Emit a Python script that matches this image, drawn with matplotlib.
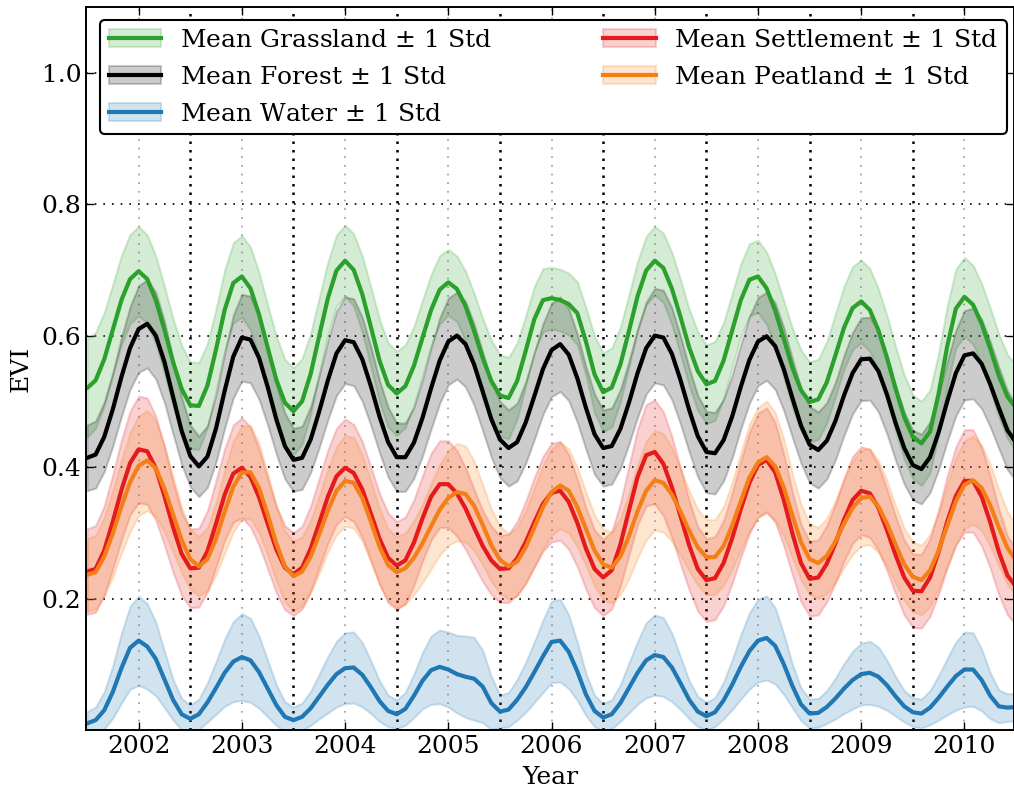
import numpy as np
import matplotlib
matplotlib.use('Agg')
import matplotlib.pyplot as plt
from matplotlib.patches import Patch
from matplotlib.lines import Line2D

plt.rcParams['font.family'] = 'DejaVu Serif'
plt.rcParams['font.size'] = 18

# monthly samples, July 2001 .. July 2010
t = 2001.5 + np.arange(109) / 12.0

grass_mean = [
    0.520, 0.532, 0.564, 0.609, 0.654, 0.686, 0.698, 0.686, 0.654, 0.609, 0.560, 0.519,
    0.494, 0.493, 0.524, 0.579, 0.639, 0.680, 0.690, 0.672, 0.632, 0.582, 0.533, 0.498,
    0.485, 0.500, 0.542, 0.600, 0.657, 0.699, 0.714, 0.700, 0.663, 0.613, 0.562, 0.525,
    0.512, 0.523, 0.554, 0.597, 0.639, 0.670, 0.681, 0.671, 0.645, 0.607, 0.566, 0.531,
    0.509, 0.505, 0.531, 0.577, 0.625, 0.654, 0.657, 0.654, 0.648, 0.634, 0.591, 0.541,
    0.514, 0.521, 0.556, 0.607, 0.660, 0.699, 0.714, 0.703, 0.671, 0.628, 0.582, 0.546,
    0.526, 0.531, 0.562, 0.608, 0.654, 0.685, 0.690, 0.672, 0.638, 0.595, 0.551, 0.517,
    0.499, 0.503, 0.529, 0.570, 0.612, 0.642, 0.652, 0.639, 0.608, 0.566, 0.519, 0.476,
    0.446, 0.436, 0.454, 0.512, 0.584, 0.641, 0.659, 0.647, 0.618, 0.580, 0.539, 0.507,
    0.490]
grass_std = [
    0.075, 0.073, 0.071, 0.069, 0.068, 0.068, 0.068, 0.067, 0.067, 0.066, 0.066, 0.066,
    0.066, 0.066, 0.064, 0.062, 0.061, 0.061, 0.062, 0.063, 0.064, 0.065, 0.066, 0.066,
    0.066, 0.065, 0.062, 0.058, 0.055, 0.054, 0.054, 0.055, 0.058, 0.061, 0.063, 0.064,
    0.064, 0.063, 0.060, 0.057, 0.054, 0.052, 0.050, 0.050, 0.053, 0.057, 0.060, 0.062,
    0.062, 0.062, 0.058, 0.053, 0.050, 0.048, 0.047, 0.047, 0.047, 0.048, 0.052, 0.058,
    0.060, 0.060, 0.057, 0.055, 0.053, 0.052, 0.052, 0.053, 0.055, 0.057, 0.058, 0.060,
    0.060, 0.060, 0.058, 0.056, 0.055, 0.055, 0.055, 0.055, 0.056, 0.058, 0.060, 0.061,
    0.061, 0.061, 0.062, 0.063, 0.063, 0.063, 0.063, 0.063, 0.063, 0.064, 0.064, 0.064,
    0.064, 0.064, 0.063, 0.062, 0.061, 0.060, 0.060, 0.060, 0.061, 0.062, 0.063, 0.064,
    0.065]

forest_mean = [
    0.414, 0.419, 0.446, 0.488, 0.537, 0.581, 0.610, 0.618, 0.600, 0.560, 0.507, 0.455,
    0.417, 0.401, 0.416, 0.459, 0.516, 0.568, 0.597, 0.594, 0.566, 0.522, 0.473, 0.432,
    0.411, 0.414, 0.442, 0.485, 0.532, 0.573, 0.593, 0.590, 0.564, 0.523, 0.477, 0.438,
    0.415, 0.415, 0.437, 0.475, 0.520, 0.562, 0.591, 0.600, 0.587, 0.556, 0.515, 0.473,
    0.442, 0.429, 0.438, 0.468, 0.508, 0.549, 0.578, 0.587, 0.571, 0.535, 0.490, 0.450,
    0.429, 0.432, 0.458, 0.498, 0.543, 0.581, 0.600, 0.597, 0.572, 0.532, 0.487, 0.447,
    0.423, 0.421, 0.441, 0.477, 0.522, 0.563, 0.591, 0.599, 0.584, 0.549, 0.505, 0.463,
    0.434, 0.426, 0.440, 0.470, 0.509, 0.543, 0.564, 0.565, 0.546, 0.510, 0.467, 0.429,
    0.403, 0.397, 0.415, 0.453, 0.500, 0.543, 0.570, 0.573, 0.557, 0.526, 0.490, 0.456,
    0.437]
forest_std = [
    0.050, 0.051, 0.053, 0.056, 0.060, 0.063, 0.066, 0.067, 0.066, 0.062, 0.057, 0.051,
    0.047, 0.046, 0.047, 0.051, 0.057, 0.063, 0.066, 0.066, 0.063, 0.058, 0.053, 0.050,
    0.048, 0.048, 0.050, 0.055, 0.060, 0.064, 0.066, 0.066, 0.064, 0.060, 0.055, 0.053,
    0.052, 0.052, 0.054, 0.058, 0.062, 0.065, 0.066, 0.066, 0.065, 0.062, 0.060, 0.058,
    0.058, 0.058, 0.059, 0.062, 0.066, 0.069, 0.071, 0.072, 0.070, 0.067, 0.063, 0.061,
    0.058, 0.058, 0.060, 0.063, 0.067, 0.070, 0.072, 0.072, 0.070, 0.067, 0.064, 0.062,
    0.062, 0.062, 0.062, 0.063, 0.064, 0.066, 0.067, 0.067, 0.066, 0.063, 0.060, 0.057,
    0.058, 0.058, 0.058, 0.059, 0.061, 0.062, 0.063, 0.063, 0.062, 0.060, 0.057, 0.055,
    0.053, 0.053, 0.054, 0.057, 0.061, 0.065, 0.068, 0.069, 0.068, 0.065, 0.062, 0.060,
    0.058]

water_mean = [
    0.010, 0.015, 0.030, 0.058, 0.094, 0.125, 0.136, 0.127, 0.108, 0.077, 0.046, 0.024,
    0.017, 0.024, 0.042, 0.064, 0.087, 0.104, 0.111, 0.106, 0.088, 0.063, 0.038, 0.020,
    0.015, 0.020, 0.033, 0.051, 0.069, 0.085, 0.094, 0.095, 0.084, 0.065, 0.044, 0.029,
    0.024, 0.032, 0.052, 0.075, 0.091, 0.096, 0.092, 0.085, 0.081, 0.078, 0.066, 0.041,
    0.028, 0.031, 0.046, 0.065, 0.088, 0.112, 0.134, 0.136, 0.119, 0.089, 0.054, 0.029,
    0.019, 0.024, 0.041, 0.064, 0.087, 0.106, 0.114, 0.111, 0.095, 0.071, 0.046, 0.028,
    0.021, 0.027, 0.045, 0.069, 0.096, 0.120, 0.136, 0.140, 0.128, 0.100, 0.067, 0.039,
    0.025, 0.026, 0.035, 0.048, 0.063, 0.076, 0.085, 0.087, 0.081, 0.068, 0.051, 0.036,
    0.027, 0.025, 0.034, 0.049, 0.066, 0.082, 0.092, 0.092, 0.076, 0.052, 0.036, 0.034,
    0.035]
water_std = [
    0.018, 0.020, 0.028, 0.040, 0.053, 0.063, 0.068, 0.065, 0.056, 0.043, 0.031, 0.024,
    0.021, 0.023, 0.030, 0.040, 0.051, 0.061, 0.066, 0.064, 0.055, 0.043, 0.031, 0.023,
    0.020, 0.021, 0.026, 0.034, 0.043, 0.050, 0.054, 0.054, 0.049, 0.040, 0.031, 0.024,
    0.022, 0.025, 0.033, 0.043, 0.052, 0.056, 0.057, 0.059, 0.062, 0.063, 0.055, 0.040,
    0.025, 0.026, 0.031, 0.038, 0.046, 0.055, 0.062, 0.063, 0.056, 0.044, 0.032, 0.024,
    0.021, 0.022, 0.028, 0.038, 0.048, 0.057, 0.061, 0.060, 0.052, 0.040, 0.029, 0.023,
    0.021, 0.022, 0.028, 0.038, 0.049, 0.058, 0.063, 0.064, 0.058, 0.046, 0.033, 0.025,
    0.022, 0.022, 0.025, 0.031, 0.038, 0.044, 0.047, 0.048, 0.045, 0.038, 0.030, 0.024,
    0.022, 0.022, 0.026, 0.034, 0.043, 0.052, 0.057, 0.056, 0.047, 0.035, 0.025, 0.021,
    0.021]

settle_mean = [
    0.241, 0.245, 0.273, 0.317, 0.365, 0.406, 0.427, 0.424, 0.398, 0.356, 0.309, 0.268,
    0.246, 0.247, 0.272, 0.314, 0.358, 0.390, 0.399, 0.385, 0.354, 0.314, 0.275, 0.247,
    0.237, 0.247, 0.276, 0.315, 0.355, 0.386, 0.399, 0.391, 0.366, 0.329, 0.291, 0.262,
    0.250, 0.258, 0.285, 0.322, 0.355, 0.374, 0.374, 0.360, 0.337, 0.308, 0.280, 0.258,
    0.245, 0.246, 0.261, 0.286, 0.316, 0.344, 0.361, 0.364, 0.347, 0.315, 0.276, 0.245,
    0.232, 0.243, 0.282, 0.334, 0.385, 0.418, 0.423, 0.405, 0.369, 0.325, 0.281, 0.245,
    0.228, 0.231, 0.254, 0.292, 0.336, 0.376, 0.403, 0.411, 0.392, 0.350, 0.299, 0.254,
    0.230, 0.232, 0.253, 0.284, 0.320, 0.350, 0.364, 0.360, 0.338, 0.304, 0.266, 0.232,
    0.212, 0.211, 0.232, 0.271, 0.317, 0.356, 0.379, 0.379, 0.355, 0.316, 0.271, 0.235,
    0.218]
settle_std = [
    0.065, 0.066, 0.068, 0.072, 0.076, 0.079, 0.081, 0.081, 0.079, 0.075, 0.069, 0.063,
    0.060, 0.060, 0.062, 0.066, 0.070, 0.074, 0.076, 0.076, 0.073, 0.069, 0.066, 0.064,
    0.063, 0.063, 0.065, 0.068, 0.071, 0.073, 0.074, 0.074, 0.073, 0.071, 0.069, 0.068,
    0.067, 0.066, 0.065, 0.065, 0.066, 0.066, 0.066, 0.065, 0.062, 0.058, 0.054, 0.052,
    0.051, 0.052, 0.056, 0.062, 0.068, 0.072, 0.075, 0.075, 0.072, 0.067, 0.062, 0.059,
    0.058, 0.059, 0.063, 0.068, 0.073, 0.077, 0.079, 0.079, 0.077, 0.073, 0.068, 0.064,
    0.063, 0.063, 0.065, 0.069, 0.073, 0.077, 0.079, 0.079, 0.076, 0.070, 0.063, 0.059,
    0.057, 0.057, 0.058, 0.060, 0.063, 0.066, 0.067, 0.067, 0.065, 0.062, 0.059, 0.057,
    0.056, 0.056, 0.059, 0.064, 0.070, 0.075, 0.078, 0.078, 0.075, 0.070, 0.065, 0.060,
    0.058]

peat_mean = [
    0.236, 0.240, 0.264, 0.299, 0.340, 0.377, 0.402, 0.410, 0.398, 0.367, 0.328, 0.289,
    0.260, 0.249, 0.260, 0.291, 0.332, 0.370, 0.392, 0.392, 0.368, 0.328, 0.284, 0.249,
    0.234, 0.241, 0.264, 0.298, 0.334, 0.364, 0.379, 0.376, 0.353, 0.317, 0.279, 0.251,
    0.240, 0.246, 0.262, 0.284, 0.310, 0.335, 0.353, 0.362, 0.359, 0.341, 0.312, 0.281,
    0.259, 0.249, 0.256, 0.278, 0.308, 0.339, 0.362, 0.372, 0.364, 0.339, 0.306, 0.273,
    0.252, 0.247, 0.264, 0.295, 0.333, 0.364, 0.380, 0.376, 0.358, 0.332, 0.303, 0.278,
    0.263, 0.263, 0.280, 0.311, 0.348, 0.384, 0.407, 0.415, 0.401, 0.369, 0.326, 0.286,
    0.260, 0.254, 0.265, 0.287, 0.314, 0.338, 0.353, 0.355, 0.340, 0.314, 0.282, 0.252,
    0.233, 0.228, 0.243, 0.273, 0.311, 0.348, 0.373, 0.380, 0.368, 0.342, 0.308, 0.277,
    0.258]
peat_std = [
    0.055, 0.056, 0.060, 0.066, 0.071, 0.075, 0.076, 0.076, 0.073, 0.066, 0.057, 0.050,
    0.046, 0.045, 0.048, 0.055, 0.063, 0.069, 0.071, 0.071, 0.068, 0.062, 0.057, 0.054,
    0.053, 0.053, 0.055, 0.059, 0.063, 0.067, 0.069, 0.069, 0.066, 0.062, 0.058, 0.055,
    0.054, 0.054, 0.056, 0.060, 0.065, 0.069, 0.072, 0.074, 0.073, 0.068, 0.061, 0.055,
    0.051, 0.050, 0.052, 0.056, 0.060, 0.064, 0.066, 0.066, 0.064, 0.060, 0.056, 0.054,
    0.054, 0.054, 0.058, 0.065, 0.071, 0.075, 0.076, 0.075, 0.071, 0.066, 0.061, 0.058,
    0.057, 0.057, 0.060, 0.066, 0.074, 0.081, 0.084, 0.085, 0.082, 0.074, 0.064, 0.057,
    0.054, 0.054, 0.057, 0.062, 0.067, 0.071, 0.073, 0.073, 0.070, 0.065, 0.059, 0.055,
    0.053, 0.053, 0.055, 0.058, 0.062, 0.066, 0.067, 0.067, 0.065, 0.062, 0.058, 0.055,
    0.054]

years = [2002, 2003, 2004, 2005, 2006, 2007, 2008, 2009, 2010]
evi_ticks = [0.2, 0.4, 0.6, 0.8, 1.0]

series = [
    ('Grassland', grass_mean, grass_std, '#2ca02c'),
    ('Forest', forest_mean, forest_std, 'k'),
    ('Water', water_mean, water_std, '#1f77b4'),
    ('Settlement', settle_mean, settle_std, '#e41a1c'),
    ('Peatland', peat_mean, peat_std, '#f57f17'),
]

fig = plt.figure(figsize=(10.14, 7.92), dpi=100)
ax = fig.add_axes([0.0848, 0.0783, 0.9152, 0.9129])

handles, labels = [], []
for name, m, s, c in series:
    m = np.array(m)
    s = np.array(s)
    ax.fill_between(t, m - s, m + s, color=c, alpha=0.2, lw=1.5,
                    joinstyle='round')
    ax.plot(t, m, color=c, lw=3, solid_joinstyle='round',
            solid_capstyle='round')
    handles.append((Patch(facecolor=c, edgecolor=c, alpha=0.2, lw=1.5),
                    Line2D([], [], color=c, lw=3)))
    labels.append('Mean %s $\\pm$ 1 Std' % name)

# mid-year separators
for y in years[:-1]:
    ax.axvline(y + 0.5, color='k', lw=1.8, ls=(0, (1, 2.4)), zorder=0.5)

ax.grid(axis='y', color='k', lw=1.2, ls=(0, (1, 4.2)))
ax.grid(axis='x', color='0.6', lw=1.2, ls=(0, (1, 4.2)))
ax.set_axisbelow(True)

ax.set_xlim(2001.49, 2010.48)
ax.set_ylim(0, 1.1)
ax.set_xticks(years)
ax.set_yticks(evi_ticks)
ax.tick_params(direction='in', length=6, width=1, top=True, right=True)
for sp in ax.spines.values():
    sp.set_linewidth(1.4)
ax.set_xlabel('Year', labelpad=6)
ax.set_ylabel('EVI', labelpad=6)

leg = ax.legend(handles, labels, ncol=2, mode='expand', loc='upper left',
                bbox_to_anchor=(0.015, 0.0, 0.9775, 0.982), borderaxespad=0,
                fancybox=True, edgecolor='k', framealpha=1, handlelength=2.1,
                handletextpad=0.75, labelspacing=0.56, borderpad=0.35)
leg.get_frame().set_linewidth(1.5)

fig.savefig('out.png', dpi=100)
